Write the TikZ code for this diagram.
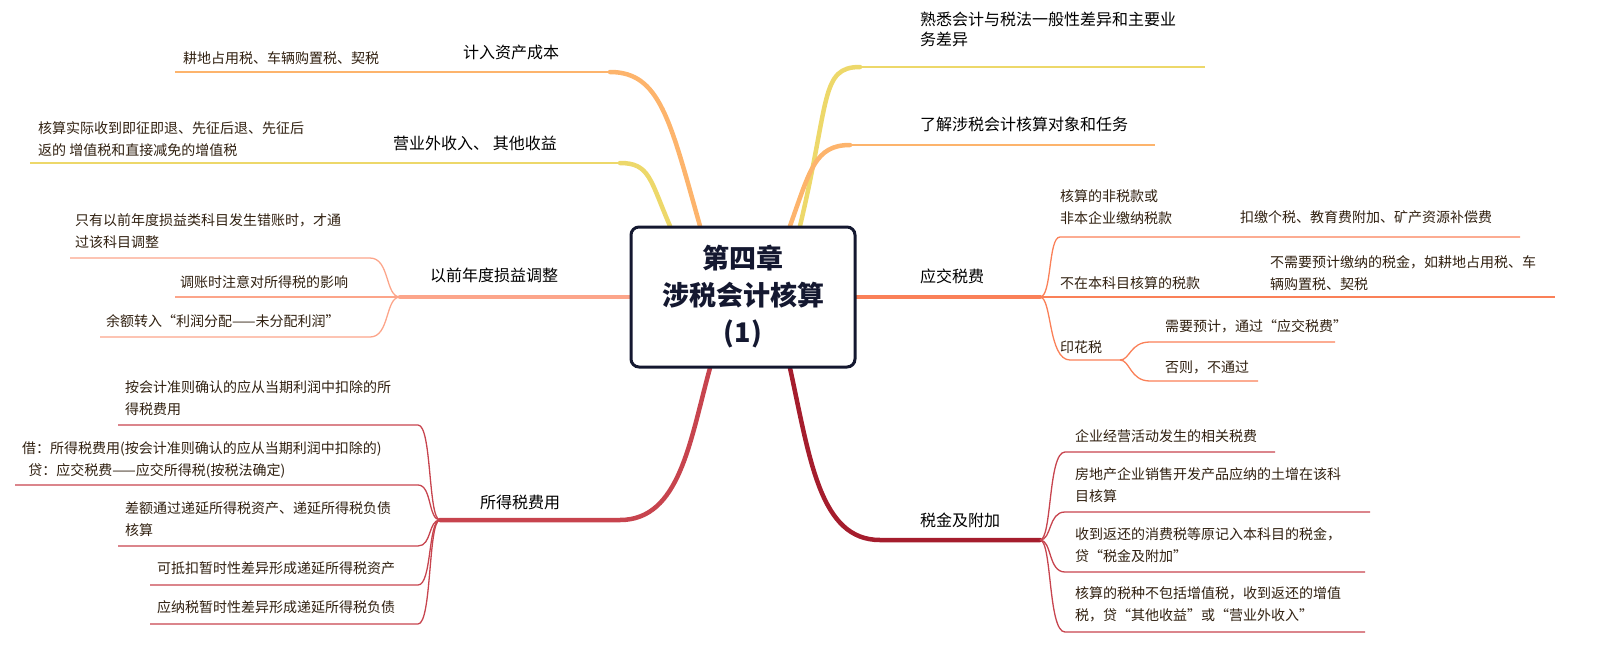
\documentclass[tikz,border=0pt]{standalone}
\usepackage{fontspec}
\setmainfont{Noto Sans CJK SC}
\begin{document}
\begin{tikzpicture}[x=1pt,y=-1pt,
  sub/.style={anchor=west,inner sep=0pt,font=\fontsize{14}{22}\selectfont,text=black!75!brown,align=left},
  main/.style={anchor=west,inner sep=0pt,font=\fontsize{16}{20}\selectfont,text=black},
  br/.style={line width=4.5pt,line cap=round},
  ul/.style={line width=1.8pt},
  tw/.style={line width=1.3pt}]
\definecolor{cy}{HTML}{EDD86A}
\definecolor{co}{HTML}{FDB46C}
\definecolor{cs}{HTML}{FCA58A}
\definecolor{cr}{HTML}{C7444E}
\definecolor{cd}{HTML}{A51D2D}
\definecolor{cg}{HTML}{FA8058}
\definecolor{cn}{HTML}{141830}
\useasboundingbox (0,0) rectangle (1616,665);
% center
\coordinate (ctl) at (700,226);
\coordinate (ctl2) at (670,226);
\coordinate (ctr) at (800,226);
\coordinate (ctr2) at (790,226);
\coordinate (cbl) at (710,368);
\coordinate (cbr) at (790,368);
\coordinate (cl) at (630,297);
\coordinate (cr) at (856,297);
% ---------- right ----------
\coordinate (r1a) at (860,67); \coordinate (r1b) at (1205,67);
\draw[br,cy] (ctr) .. controls (830,100) and (820,67) .. (r1a);
\draw[ul,cy] (r1a) -- (r1b);
\node[main] (t1) at (920,31) {\begin{tabular}{@{}l@{}}熟悉会计与税法一般性差异和主要业\\务差异\end{tabular}};
\coordinate (r2a) at (850,145); \coordinate (r2b) at (1155,145);
\draw[br,co] (ctr2) .. controls (810,170) and (815,145) .. (r2a);
\draw[ul,co] (r2a) -- (r2b);
\node[main] (t2) at (920,124) {了解涉税会计核算对象和任务};
% 应交税费
\coordinate (yj) at (1040,297);
\draw[br,cg] (cr) -- (yj);
\node[main] (t3) at (920,276) {应交税费};
\coordinate (y1a) at (1060,237); \coordinate (y1b) at (1520,237);
\draw[tw,cg] (yj) .. controls (1052,297) and (1048,237) .. (y1a) -- (y1b);
\node[sub] (s31) at (1060,207) {核算的非税款或\\非本企业缴纳税款};
\node[sub] (s31b) at (1240,217) {扣缴个税、教育费附加、矿产资源补偿费};
\coordinate (y2b) at (1555,297);
\draw[tw,cg] (yj) -- (y2b);
\node[sub] (s32) at (1060,283) {不在本科目核算的税款};
\node[sub] (s32b) at (1270,273) {不需要预计缴纳的税金，如耕地占用税、车\\辆购置税、契税};
\coordinate (y3) at (1120,360);
\draw[tw,cg] (yj) .. controls (1052,297) and (1048,360) .. (1070,360) -- (y3);
\node[sub] (s33) at (1060,347) {印花税};
\coordinate (y31) at (1335,342); \coordinate (y32) at (1258,381);
\draw[tw,cg] (y3) .. controls (1130,360) and (1130,342) .. (1150,342) -- (y31);
\draw[tw,cg] (y3) .. controls (1130,360) and (1130,381) .. (1150,381) -- (y32);
\node[sub] (s331) at (1165,326) {需要预计，通过“应交税费”};
\node[sub] (s332) at (1165,367) {否则，不通过};
% 税金及附加
\coordinate (sj) at (1040,540);
\draw[br,cd] (cbr) .. controls (810,460) and (820,540) .. (880,540) -- (sj);
\node[main] (t4) at (920,520) {税金及附加};
\foreach \yy/\xe in {452/1275,512/1370,572/1365,632/1365}{
  \draw[tw,cr] (sj) .. controls (1052,540) and (1048,\yy) .. (1065,\yy) -- (\xe,\yy);}
\node[sub] (s41) at (1075,436) {企业经营活动发生的相关税费};
\node[sub] (s42) at (1075,485) {房地产企业销售开发产品应纳的土增在该科\\目核算};
\node[sub] (s43) at (1075,545) {收到返还的消费税等原记入本科目的税金，\\贷“税金及附加”};
\node[sub] (s44) at (1075,604) {核算的税种不包括增值税，收到返还的增值\\税，贷“其他收益”或“营业外收入”};
% ---------- left ----------
\coordinate (l1a) at (610,72); \coordinate (l1b) at (175,72);
\draw[br,co] (ctl) .. controls (670,120) and (660,72) .. (l1a);
\draw[ul,co] (l1a) -- (l1b);
\node[main] (t5) at (463,52) {计入资产成本};
\node[sub] (s51) at (183,58) {耕地占用税、车辆购置税、契税};
\coordinate (l2a) at (620,163); \coordinate (l2b) at (30,163);
\draw[br,cy] (ctl2) .. controls (650,180) and (650,163) .. (l2a);
\draw[ul,cy] (l2a) -- (l2b);
\node[main] (t6) at (393,143) {营业外收入、 其他收益};
\node[sub] (s61) at (38,139) {核算实际收到即征即退、先征后退、先征后\\返的 增值税和直接减免的增值税};
% 以前年度
\coordinate (l3) at (400,297);
\draw[br,cs] (cl) -- (l3);
\node[main] (t7) at (430,275) {以前年度损益调整};
\draw[tw,cs] (l3) .. controls (385,297) and (390,258) .. (370,258) -- (70,258);
\draw[tw,cs] (l3) -- (175,297);
\draw[tw,cs] (l3) .. controls (385,297) and (390,337) .. (370,337) -- (100,337);
\node[sub] (s71) at (75,231) {只有以前年度损益类科目发生错账时，才通\\过该科目调整};
\node[sub] (s72) at (180,282) {调账时注意对所得税的影响};
\node[sub] (s73) at (106,321) {余额转入“利润分配——未分配利润”};
% 所得税费用
\coordinate (l4) at (440,520);
\draw[br,cr] (cbl) .. controls (690,440) and (680,520) .. (620,520) -- (l4);
\node[main] (t8) at (480,502) {所得税费用};
\foreach \yy/\xe in {425/118,485/15,546/118,585/150,624/150}{
  \draw[tw,cr] (l4) .. controls (428,520) and (432,\yy) .. (418,\yy) -- (\xe,\yy);}
\node[sub] (s81) at (125,398) {按会计准则确认的应从当期利润中扣除的所\\得税费用};
\node[sub] (s82) at (22,460) {借：所得税费用(按会计准则确认的应从当期利润中扣除的)\\\ \ 贷：应交税费——应交所得税(按税法确定)};
\node[sub] (s83) at (125,519) {差额通过递延所得税资产、递延所得税负债\\核算};
\node[sub] (s84) at (157,568) {可抵扣暂时性差异形成递延所得税资产};
\node[sub] (s85) at (157,607) {应纳税暂时性差异形成递延所得税负债};
% center box
\node[draw=cn,line width=3pt,rounded corners=8pt,fill=white,minimum width=224pt,minimum height=140pt,align=center,font=\fontsize{27}{37}\selectfont\bfseries,text=cn] (c) at (743,297) {第四章\\涉税会计核算\\(1)};
\end{tikzpicture}
\end{document}
